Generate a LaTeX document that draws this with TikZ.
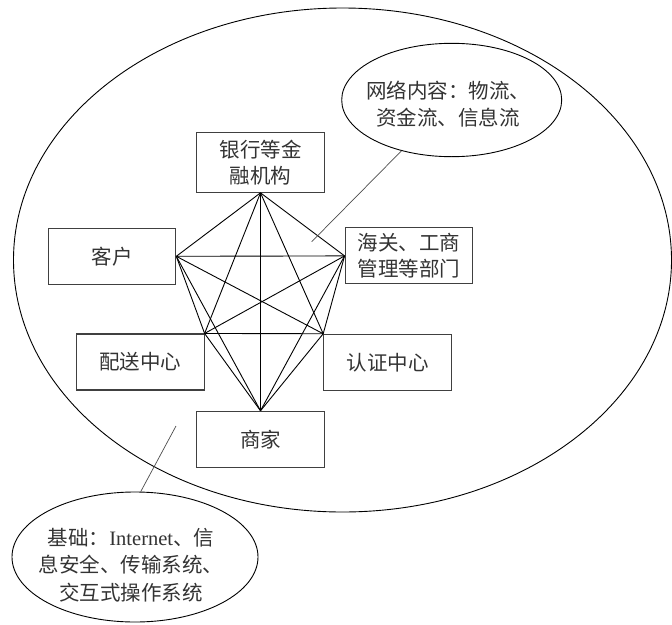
\documentclass[tikz,border=0pt]{standalone}
\usepackage{fontspec}
\setmainfont{Liberation Serif}
\newfontfamily\cjk{Noto Sans CJK SC}
\usetikzlibrary{shapes.geometric}
\begin{document}
\begin{tikzpicture}[x=1pt,y=-1pt,
  box/.style={draw=black!75, line width=1.1pt, minimum width=127.5pt, minimum height=56pt,
    inner sep=0pt, font=\cjk\fontsize{20.5}{26}\selectfont, text=black!80, align=center},
  link/.style={draw=black, line width=0.9pt},
  bubble/.style={ellipse, draw=black, line width=0.9pt, inner sep=0pt},
  note/.style={font=\cjk\fontsize{20.5}{27.5}\selectfont, text=black!80, align=center, inner sep=0pt},
  lead/.style={draw=black!70, line width=0.7pt}]
\useasboundingbox (0,0) rectangle (672,624);
% big network ellipse
\node[bubble, minimum width=658pt, minimum height=504pt] (net) at (342.5,260) {};
% callout ellipses
\node[bubble, minimum width=220pt, minimum height=113.4pt] (flowsE) at (451.7,100) {};
\node[note] (flowsT) at (448,104) {网络内容：物流、\\资金流、信息流};
\node[bubble, minimum width=246pt, minimum height=130pt] (baseE) at (135,557) {};
\node[note] (baseT) at (131,565) {基础：{\rmfamily Internet}、信\\息安全、传输系统、\\交互式操作系统};
% boxes
\node[box, minimum height=60pt] (bank) at (260.5,162.3) {银行等金\\融机构};
\node[box] (kehu) at (112,256.3) {客户};
\node[box] (hg) at (408.9,255.9) {海关、工商\\管理等部门};
\node[box] (ps) at (140.3,362) {配送中心};
\node[box] (rz) at (387.5,362.3) {认证中心};
\node[box] (sj) at (260.5,439.3) {商家};
% complete graph
\coordinate (A) at (bank.south);
\coordinate (B) at (kehu.east);
\coordinate (C) at (hg.west);
\coordinate (D) at (ps.north east);
\coordinate (E) at (rz.north west);
\coordinate (F) at (sj.north);
\foreach \u/\v in {A/B,A/C,A/D,A/E,A/F,B/C,B/D,B/E,B/F,C/D,C/E,C/F,D/E,D/F,E/F}
  \draw[link] (\u) -- (\v);
% leader lines
\coordinate (p1) at (311.7,241.7);
\coordinate (p2) at (176,426);
\draw[lead] (flowsE) -- (p1);
\draw[lead] (baseE.85) -- (p2);
\end{tikzpicture}
\end{document}
